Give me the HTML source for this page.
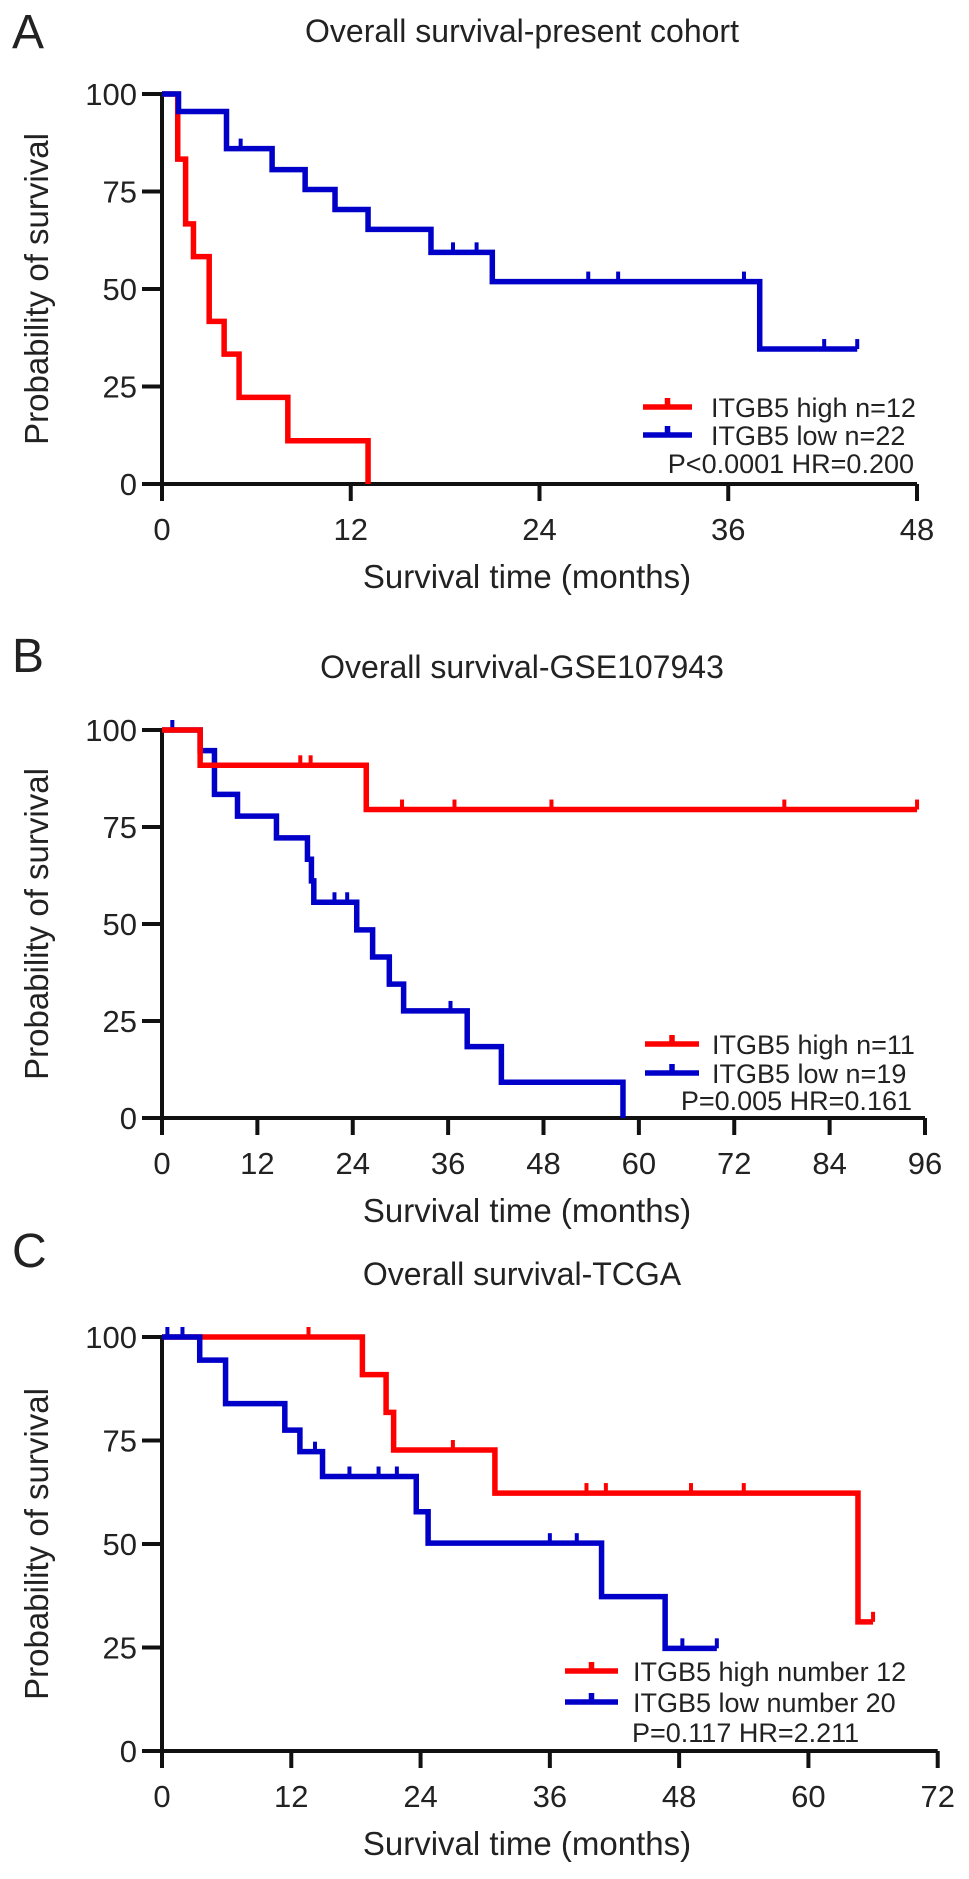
<!DOCTYPE html>
<html><head><meta charset="utf-8">
<style>
html,body{margin:0;padding:0;background:#fff;}
svg{display:block;}
text{font-family:"Liberation Sans",Arial,sans-serif;fill:#222;}
</style></head>
<body>
<svg id="fig" width="969" height="1879" viewBox="0 0 969 1879" xmlns="http://www.w3.org/2000/svg"></svg>
<script>
// ---------- Panel A data ----------
const aTicksX = [0, 12, 24, 36, 48];
const aHighT = [0, 1.0, 1.5, 2.0, 3.0, 3.95, 4.9, 8.0, 13.1];
const aHighS = [100, 83.3, 66.7, 58.3, 41.7, 33.3, 22.2, 11.1, 0];
const aHighC = [];
const aLowT = [0, 1.05, 4.1, 7.0, 9.1, 11.0, 13.1, 17.1, 21.0, 38.0, 44.2];
const aLowS = [100, 95.5, 86.0, 80.6, 75.5, 70.4, 65.3, 59.4, 51.9, 34.6, 34.6];
const aLowC = [5.0, 18.5, 20.0, 27.1, 29.0, 37.0, 42.1, 44.2];
const aLegend = ["ITGB5 high n=12", "ITGB5 low n=22", "P<0.0001 HR=0.200"];
// ---------- Panel B data ----------
const bTicksX = [0, 12, 24, 36, 48, 60, 72, 84, 96];
const bHighT = [0, 4.8, 25.7, 95];
const bHighS = [100, 90.9, 79.5, 79.5];
const bHighC = [17.4, 18.7, 30.2, 36.8, 49.0, 78.3, 95];
const bLowT = [0, 4.8, 6.6, 9.5, 14.4, 18.3, 18.8, 19.1, 24.5, 26.5, 28.6, 30.4, 38.4, 42.7, 58.0];
const bLowS = [100, 94.7, 83.4, 77.8, 72.2, 66.7, 61.1, 55.6, 48.5, 41.5, 34.5, 27.6, 18.4, 9.2, 0];
const bLowC = [1.3, 21.7, 23.3, 36.3];
const bLegend = ["ITGB5 high n=11", "ITGB5 low n=19", "P=0.005  HR=0.161"];
// ---------- Panel C data ----------
const cTicksX = [0, 12, 24, 36, 48, 60, 72];
const cHighT = [0, 18.6, 20.8, 21.5, 30.9, 64.6, 66.0];
const cHighS = [100, 90.9, 81.8, 72.7, 62.3, 31.2, 31.2];
const cHighC = [13.6, 27.0, 39.4, 41.2, 49.1, 54.0, 66.0];
const cLowT = [0, 3.5, 5.9, 11.4, 12.8, 14.9, 23.6, 24.7, 40.8, 46.7, 51.5];
const cLowS = [100, 94.4, 83.9, 77.5, 72.3, 66.3, 57.8, 50.2, 37.3, 24.8, 24.8];
const cLowC = [0.5, 1.9, 14.2, 17.4, 20.1, 21.8, 36.0, 38.5, 48.3, 51.5];
const cLegend = ["ITGB5 high number 12", "ITGB5 low number 20", "P=0.117  HR=2.211"];
const ticksY = [0, 25, 50, 75, 100];

const NS = "http://www.w3.org/2000/svg";
const svg = document.getElementById("fig");
function mk(tag, attrs, parent) {
  const e = document.createElementNS(NS, tag);
  for (const k in attrs) e.setAttribute(k, attrs[k]);
  (parent || svg).appendChild(e);
  return e;
}
function survAt(T, S, t) {
  let s = S[0];
  for (let i = 0; i < T.length; i++) { if (T[i] <= t) s = S[i]; }
  return s;
}

function panel(cfg) {
  const g = mk("g", {});
  
  
  const xMax = cfg.ticksX[cfg.ticksX.length - 1];
  const sx = v => cfg.x0 + (v / xMax) * (cfg.x1 - cfg.x0);
  const sy = v => cfg.y0 + (v / 100) * (cfg.y100 - cfg.y0);

  const lab = mk("text", {x: 12, y: cfg.labelY, "font-size": 48}, g);
  lab.textContent = cfg.letter;
  
  

  const ti = mk("text", {x: 522, y: cfg.y100 - 52, "font-size": 32, "text-anchor": "middle"}, g);
  ti.textContent = cfg.title;
  
  

  const yt = mk("text", {x: 0, y: 0, "font-size": 33, "text-anchor": "middle",
    transform: "translate(48," + ((cfg.y0 + cfg.y100) / 2) + ") rotate(-90)"}, g);
  yt.textContent = "Probability of survival";
  
  

  const xt = mk("text", {x: 527, y: cfg.y0 + 104, "font-size": 33, "text-anchor": "middle"}, g);
  xt.textContent = "Survival time (months)";
  
  

  const ax = mk("path", {d: "M" + cfg.x0 + "," + cfg.y100 + " V" + (cfg.y0 + 17) +
    " M" + (cfg.x0 - 20) + "," + cfg.y0 + " H" + cfg.x1, stroke: "#111", "stroke-width": 4, fill: "none"}, g);
  
  
  ticksY.forEach(v => {
    const t = mk("line", {x1: cfg.x0 - 20, x2: cfg.x0, y1: sy(v), y2: sy(v), stroke: "#111", "stroke-width": 4}, g);
    
    
    const l = mk("text", {x: cfg.x0 - 25, y: sy(v) + 11, "font-size": 31, "text-anchor": "end"}, g);
    l.textContent = v;
    
    
  });
  cfg.ticksX.forEach(v => {
    const t = mk("line", {x1: sx(v), x2: sx(v), y1: cfg.y0, y2: cfg.y0 + 17, stroke: "#111", "stroke-width": 4}, g);
    
    
    const l = mk("text", {x: sx(v), y: cfg.y0 + 56, "font-size": 31, "text-anchor": "middle"}, g);
    l.textContent = v;
    
    
  });

  cfg.series.forEach(s => {
    let d = "M" + sx(s.T[0]) + "," + sy(s.S[0]);
    for (let i = 1; i < s.T.length; i++) {
      d += " H" + sx(s.T[i]) + " V" + sy(s.S[i]);
    }
    const p = mk("path", {d: d, stroke: s.color, "stroke-width": 5.5, fill: "none", "stroke-linejoin": "miter"}, g);
    
    
    s.C.forEach(c => {
      const y = sy(survAt(s.T, s.S, c));
      const m = mk("line", {x1: sx(c), x2: sx(c), y1: y, y2: y - 10, stroke: s.color, "stroke-width": 4}, g);
      
      
    });
  });

  const L = cfg.leg;
  [[0, "#ff0000", "high"], [1, "#0000c8", "low"]].forEach(([i, col, key]) => {
    const y = L.y + i * L.dy;
    const ln = mk("path", {d: "M" + L.lx0 + "," + y + " H" + L.lx1 + " M" + ((L.lx0 + L.lx1) / 2) + "," + y + " v-9",
      stroke: col, "stroke-width": 5.5, fill: "none"}, g);
    
    
    const tx = mk("text", {x: L.tx, y: y + 10, "font-size": 27}, g);
    tx.textContent = cfg.legend[i];
    
    
  });
  const pt = mk("text", {x: L.px, y: L.py, "font-size": 27, "text-anchor": L.panchor}, g);
  pt.textContent = cfg.legend[2];
  
  
}

panel({id: "a", letter: "A", labelY: 48, title: "Overall survival-present cohort",
  x0: 162, x1: 917, y100: 94, y0: 484, ticksX: aTicksX, legend: aLegend,
  series: [{key: "high", color: "#ff0000", T: aHighT, S: aHighS, C: aHighC},
           {key: "low", color: "#0000c8", T: aLowT, S: aLowS, C: aLowC}],
  leg: {lx0: 643, lx1: 692, y: 407, dy: 28, tx: 711, px: 914, py: 473, panchor: "end"}});
panel({id: "b", letter: "B", labelY: 672, title: "Overall survival-GSE107943",
  x0: 162, x1: 925, y100: 730, y0: 1118, ticksX: bTicksX, legend: bLegend,
  series: [{key: "low", color: "#0000c8", T: bLowT, S: bLowS, C: bLowC},
           {key: "high", color: "#ff0000", T: bHighT, S: bHighS, C: bHighC}],
  leg: {lx0: 645, lx1: 699, y: 1044, dy: 29, tx: 712, px: 912, py: 1110, panchor: "end"}});
panel({id: "c", letter: "C", labelY: 1267, title: "Overall survival-TCGA",
  x0: 162, x1: 937.7, y100: 1337, y0: 1751, ticksX: cTicksX, legend: cLegend,
  series: [{key: "high", color: "#ff0000", T: cHighT, S: cHighS, C: cHighC},
           {key: "low", color: "#0000c8", T: cLowT, S: cLowS, C: cLowC}],
  leg: {lx0: 565, lx1: 618, y: 1671, dy: 31, tx: 633, px: 632, py: 1742, panchor: "start"}});
</script>
</body></html>
